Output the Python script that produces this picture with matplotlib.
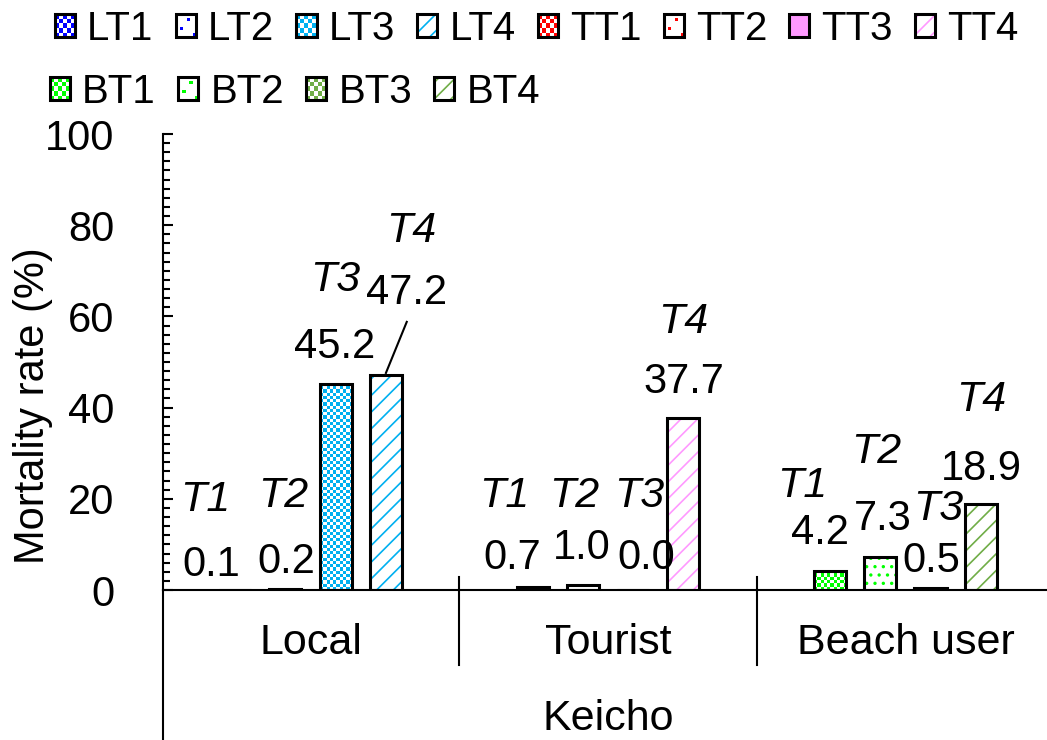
import numpy as np
import matplotlib.pyplot as plt
from matplotlib.patches import Patch, Rectangle
from matplotlib.legend_handler import HandlerBase
from matplotlib.colors import to_rgba
from matplotlib.ticker import MultipleLocator

plt.rcParams['font.family'] = ['Liberation Sans', 'DejaVu Sans']
plt.rcParams['hatch.linewidth'] = 1.2

# Mortality rate (%) per user group and treatment
groups = ['Local', 'Tourist', 'Beach user']
treatments = ['T1', 'T2', 'T3', 'T4']
series = ['LT1', 'LT2', 'LT3', 'LT4',
          'TT1', 'TT2', 'TT3', 'TT4',
          'BT1', 'BT2', 'BT3', 'BT4']
local = [0.1, 0.2, 45.2, 47.2]
tourist = [0.7, 1.0, 0.0, 37.7]
beach = [4.2, 7.3, 0.5, 18.9]
values = [local, tourist, beach]

colors = ['#0000FF', '#0000FF', '#00B0F0', '#00B0F0',
          '#FF0000', '#FF0000', '#FF99FF', '#FF99FF',
          '#00FF00', '#00FF00', '#70AD47', '#70AD47']
fills = ['checker', 'dots', 'checker', 'diag',
         'checker', 'dots', 'solid', 'diag',
         'checker', 'dots', 'checker', 'diag']

# label placement: (x offset from bar centre, y in data units)
tlabel_pos = [[(-0.10, 19.7), (-0.007, 20.6), (-0.003, 68.0), (0.084, 78.7)],
              [(-0.094, 20.6), (-0.03, 20.6), (0.02, 20.6), (0.0, 58.8)],
              [(-0.094, 22.8), (-0.013, 30.3), (0.027, 17.8), (0.0, 41.7)]]
vlabel_pos = [[(-0.081, 5.5), (0.003, 6.1), (-0.003, 53.3), (0.071, 65.1)],
              [(-0.067, 7.0), (-0.003, 9.2), (0.044, 7.0), (0.0, 45.6)],
              [(-0.034, 12.5), (0.007, 15.6), (0.003, 6.4), (0.003, 26.5)]]

fs = 30
step = 0.169
width = 0.108
edge_lw = 2.2
xlim = (-0.496, 2.476)
ax_w_px, ax_h_px = 1047 - 163, 456
cell_px = 3.2

fig = plt.figure(figsize=(10.47, 7.4), dpi=100)
ax = fig.add_axes([163 / 1047, 150 / 740, ax_w_px / 1047, ax_h_px / 740])


def checker_fill(x, h, color):
    # pixel-sized checkerboard clipped to the bar
    w_px = width * ax_w_px / (xlim[1] - xlim[0])
    h_px = h * ax_h_px / 100
    nx = max(1, round(w_px / cell_px))
    ny = max(1, round(h_px / cell_px))
    grid = np.add.outer(np.arange(ny), np.arange(nx)) % 2
    rgba = np.where(grid[..., None] == 0, np.array(to_rgba(color)),
                    np.array([1.0, 1.0, 1.0, 1.0]))
    ax.imshow(rgba, extent=(x - width / 2, x + width / 2, 0, h), origin='lower',
              interpolation='nearest', aspect='auto', zorder=1)


def draw_bar(x, h, color, kind):
    if kind == 'checker':
        checker_fill(x, h, color)
    elif kind == 'solid':
        ax.bar(x, h, width, color=color, linewidth=0)
    else:
        hatch = '..' if kind == 'dots' else '//'
        ax.bar(x, h, width, color='white', edgecolor=color, hatch=hatch, linewidth=0)
    ax.bar(x, h, width, fill=False, edgecolor='black', linewidth=edge_lw, zorder=3)


for g, vals in enumerate(values):
    for k, v in enumerate(vals):
        idx = g * 4 + k
        x = g + (k - 1.5) * step
        draw_bar(x, v, colors[idx], fills[idx])
        dx, ty = tlabel_pos[g][k]
        ax.text(x + dx, ty, treatments[k], fontsize=fs + 1, style='italic',
                ha='center', va='center')
        dx, vy = vlabel_pos[g][k]
        ax.text(x + dx, vy, f'{v:.1f}', fontsize=fs, ha='center', va='center')

# leader line for LT4 label
x_lt4 = 1.5 * step
ax.plot([x_lt4 + 0.07, x_lt4], [58.8, local[3] + 0.4], color='black', lw=1.5)

ax.set_xlim(*xlim)
ax.set_ylim(0, 100)
ax.set_xticks([])
ax.yaxis.set_major_locator(MultipleLocator(20))
ax.yaxis.set_minor_locator(MultipleLocator(2))
ax.tick_params(axis='y', which='major', direction='in', length=7.5, width=1.5,
               pad=35, labelsize=fs)
ax.tick_params(axis='y', which='minor', direction='in', length=5, width=1.5)
for side in ['top', 'right']:
    ax.spines[side].set_visible(False)
for side in ['left', 'bottom']:
    ax.spines[side].set_linewidth(1.5)

# multi-level category axis
xt = ax.get_xaxis_transform()
ax.plot([0, 0], [0, -150 / 456], transform=ax.transAxes, color='black',
        lw=1.5, clip_on=False)
for sep in [0.5, 1.5]:
    ax.plot([sep, sep], [13 / 456, -75 / 456], transform=xt, color='black',
            lw=1.5, clip_on=False)
for g, name in enumerate(groups):
    ax.text(g, -53 / 456, name, transform=xt, fontsize=fs + 1, ha='center', va='center')
ax.text(1, -129 / 456, 'Keicho', transform=xt, fontsize=fs + 1, ha='center', va='center')

fig.text(33 / 1047, 1 - 406 / 740, 'Mortality rate (%)', rotation=90,
         fontsize=fs, ha='center', va='center')


class SwatchHandler(HandlerBase):
    """Legend swatch with the same fill pattern as the bars."""

    def __init__(self, kind, color):
        super().__init__()
        self.kind = kind
        self.color = color

    def create_artists(self, legend, orig_handle, xdescent, ydescent,
                       width, height, fontsize, trans):
        x0, y0 = -xdescent, -ydescent
        arts = [Rectangle((x0, y0), width, height, facecolor='white',
                          linewidth=0, transform=trans)]
        if self.kind == 'checker':
            n = 5
            cw, ch = width / n, height / n
            for i in range(n):
                for j in range(n):
                    if (i + j) % 2 == 0:
                        arts.append(Rectangle((x0 + i * cw, y0 + j * ch), cw, ch,
                                              facecolor=self.color, linewidth=0,
                                              transform=trans))
        elif self.kind == 'solid':
            arts.append(Rectangle((x0, y0), width, height, facecolor=self.color,
                                  linewidth=0, transform=trans))
        elif self.kind == 'dots':
            d = width / 6
            for fx, fy in [(0.55, 0.7), (0.2, 0.3), (0.85, 0.05)]:
                arts.append(Rectangle((x0 + fx * width, y0 + fy * height), d, d,
                                      facecolor=self.color, linewidth=0,
                                      transform=trans))
        else:
            arts.append(Rectangle((x0, y0), width, height, facecolor='white',
                                  edgecolor=self.color, hatch='//', linewidth=0,
                                  transform=trans))
        arts.append(Rectangle((x0, y0), width, height, fill=False,
                              edgecolor='black', linewidth=edge_lw, transform=trans))
        return arts


handles = [Patch(label=s) for s in series]
hmap = {h: SwatchHandler(k, c) for h, k, c in zip(handles, fills, colors)}
leg_kw = dict(loc='upper left', frameon=False, fontsize=fs - 1, handlelength=0.5,
              handleheight=0.5, handletextpad=0.3, columnspacing=0.55,
              borderpad=0, borderaxespad=0, handler_map=hmap)
fig.legend(handles[:8], series[:8], ncol=8, bbox_to_anchor=(55 / 1047, 1 - 10 / 740), **leg_kw)
fig.legend(handles[8:], series[8:], ncol=4, bbox_to_anchor=(50 / 1047, 1 - 73 / 740), **leg_kw)

fig.savefig('out.png', dpi=100)
